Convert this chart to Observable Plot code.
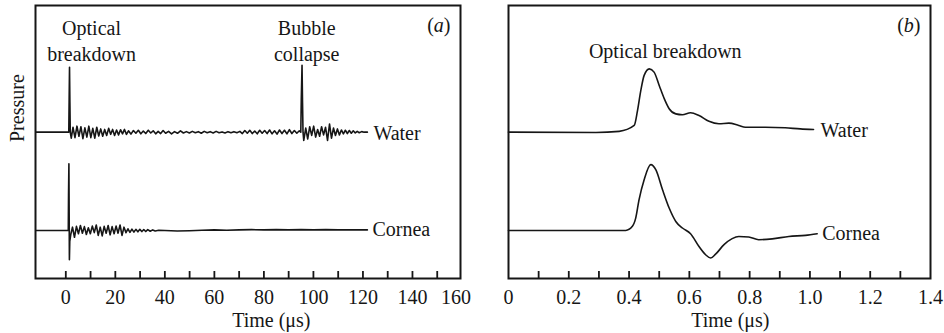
<!DOCTYPE html>
<html>
<head>
<meta charset="utf-8">
<script src="https://cdn.jsdelivr.net/npm/d3@7"></script>
<script src="https://cdn.jsdelivr.net/npm/@observablehq/plot@0.6"></script>
<style>
  body { margin: 0; background: #fff; }
  #fig { display: flex; width: 944px; }
  #fig svg { overflow: visible; }
</style>
</head>
<body>
<div id="fig"></div>
<script>
// Pressure traces (arbitrary units, relative to each trace's own baseline).
// Panel (a): long time window, µs.
const waterLong = [
  [-12, 0], [1.2, 0], [1.35, 1.2], [1.5, 2.38], [1.65, 1.1], [1.8, 0], [2.2, -0.22],
  [2.9, 0.18], [3.7, -0.2], [4.5, 0.22], [5.3, -0.15], [6.1, 0.2], [6.9, -0.24],
  [7.7, 0.16], [8.5, -0.18], [9.3, 0.22], [10.1, -0.2], [10.9, 0.14], [11.7, -0.22],
  [12.5, 0.18], [13.3, -0.14], [14.1, 0.12], [14.9, -0.15], [15.7, 0.1], [16.5, -0.12],
  [17.3, 0.14], [18.1, -0.08], [18.9, 0.1], [19.7, -0.12], [20.5, 0.08], [21.3, -0.1],
  [22.1, 0.09], [22.9, -0.06], [23.7, 0.1], [24.5, -0.08], [25.3, 0.05], [26.3, -0.07],
  [27.3, 0.06], [28.3, -0.04], [29.3, 0.07], [30.3, -0.06], [31.3, 0.04], [32.3, -0.05],
  [33.3, 0.07], [34.3, -0.03], [35.3, 0.05], [36.3, -0.06], [37.3, 0.03], [38.3, -0.05],
  [39.3, 0.06], [40.3, -0.04], [41.5, 0.03], [42.7, -0.06], [43.9, 0.02], [45.1, -0.04],
  [46.3, 0.05], [47.5, -0.03], [48.7, 0.02], [49.9, -0.03], [51.1, 0.03], [52.3, -0.02],
  [53.5, 0.02], [54.7, -0.04], [55.9, 0.03], [57.1, -0.02], [58.3, 0.02], [59.5, -0.03],
  [60.7, 0.03], [61.9, -0.02], [63.1, 0.01], [64.3, -0.03], [65.5, 0.02], [66.7, -0.02],
  [67.9, 0.02], [69.1, -0.02], [70.3, 0.03], [71.3, -0.05], [72.3, 0.06], [73.3, -0.04],
  [74.3, 0.07], [75.3, -0.05], [76.3, 0.04], [77.3, -0.06], [78.3, 0.07], [79.3, -0.04],
  [80.3, 0.06], [81.3, -0.05], [82.3, 0.08], [83.3, -0.06], [84.3, 0.05], [85.3, -0.07],
  [86.3, 0.08], [87.3, -0.05], [88.3, 0.07], [89.3, -0.06], [90.3, 0.09], [91.3, -0.05],
  [92.3, 0.06], [93.3, -0.04], [94.3, 0.05], [94.9, 0], [95.1, 1.2], [95.4, 2.45],
  [95.6, 1.1], [95.8, 0], [96.1, -0.3], [96.9, 0.15], [97.7, -0.25], [98.5, 0.2],
  [99.3, -0.12], [100.1, 0.22], [100.9, -0.18], [101.7, 0.1], [102.5, -0.15], [103.3, 0.2],
  [104.1, -0.1], [104.9, 0.18], [105.7, -0.3], [106.5, 0.3], [107.3, -0.22], [108.1, 0.15],
  [108.9, -0.12], [109.7, 0.12], [110.5, -0.1], [111.3, 0.08], [112.1, -0.06], [112.9, 0.07],
  [113.7, -0.05], [114.5, 0.06], [115.3, -0.04], [116.1, 0.05], [116.9, -0.03], [117.7, 0.03],
  [118.5, -0.02], [119.5, 0.02], [120.5, 0], [121.8, 0]
];
const corneaLong = [
  [-12, 0], [1.0, 0], [1.1, 1.3], [1.25, 2.44], [1.35, 0.7], [1.45, -1.07], [1.6, -0.4],
  [2.0, -0.15], [2.7, 0.12], [3.5, -0.25], [4.3, 0.15], [5.1, -0.12], [5.9, 0.18],
  [6.7, -0.1], [7.5, 0.14], [8.3, -0.15], [9.1, 0.1], [9.9, -0.12], [10.7, 0.16],
  [11.5, -0.08], [12.3, 0.2], [13.1, -0.18], [13.9, 0.12], [14.7, -0.2], [15.5, 0.15],
  [16.3, -0.1], [17.1, 0.18], [17.9, -0.16], [18.7, 0.14], [19.5, -0.12], [20.3, 0.16],
  [21.1, -0.1], [21.9, 0.2], [22.7, -0.18], [23.5, 0.12], [24.3, -0.08], [25.1, 0.06],
  [25.9, -0.07], [26.7, 0.05], [27.5, -0.06], [28.3, 0.04], [29.1, -0.05], [29.9, 0.04],
  [30.7, -0.04], [31.5, 0.03], [32.3, -0.04], [33.1, 0.03], [34.1, -0.03], [35.1, 0.02],
  [36.1, -0.02], [37.5, 0.01], [40, 0], [45, -0.02], [50, -0.01], [55, 0.01], [60, 0.02],
  [65, 0.01], [70, 0.02], [75, 0.03], [80, 0.02], [85, 0.03], [90, 0.02], [95, 0.03],
  [100, 0.02], [105, 0.03], [110, 0.02], [115, 0.02], [121.8, 0.02]
];

// Panel (b): short time window, µs.
const waterShort = [
  [0, 0], [0.29, -0.01], [0.367, 0.03], [0.417, 0.245], [0.428, 0.79], [0.439, 1.53],
  [0.45, 2.08], [0.467, 2.32], [0.483, 2.2], [0.5, 1.71], [0.517, 1.22], [0.533, 0.86],
  [0.555, 0.67], [0.577, 0.64], [0.604, 0.71], [0.632, 0.61], [0.665, 0.4], [0.698, 0.31],
  [0.731, 0.33], [0.764, 0.245], [0.786, 0.18], [0.852, 0.18], [0.918, 0.16],
  [0.968, 0.12], [1.012, 0.1]
];
const corneaShort = [
  [0, 0], [0.389, 0], [0.411, 0.15], [0.422, 0.45], [0.433, 1.12], [0.45, 1.86],
  [0.472, 2.41], [0.489, 2.22], [0.511, 1.49], [0.533, 0.82], [0.555, 0.33], [0.577, 0.09],
  [0.604, -0.12], [0.632, -0.59], [0.654, -0.89], [0.671, -1.01], [0.687, -0.87],
  [0.715, -0.52], [0.742, -0.3], [0.764, -0.22], [0.797, -0.24], [0.83, -0.34],
  [0.875, -0.31], [0.93, -0.22], [0.985, -0.18], [1.024, -0.12]
];

const traceNames = ["Water", "Cornea"];

// Axis ticks
const minorLong = [0, 10, 20, 30, 40, 50, 60, 70, 80, 90, 100, 110, 120, 130, 140, 150];
const labelsLong = [0, 20, 40, 60, 80, 100, 120, 140];
const edgeLabelLong = [160];
const minorShort = [0.1, 0.2, 0.3, 0.4, 0.5, 0.6, 0.7, 0.8, 0.9, 1.0, 1.1, 1.2, 1.3];
const labelsShort = [0, 0.2, 0.4, 0.6, 0.8, 1.0, 1.2, 1.4];

// Layout constants
const W = 472, H = 333, MT = 5, MB = 55;
const frameH = H - MT - MB;
const traceGap = 3.6;               // vertical separation of the two traces
const yDomain = [-1.76, 8.24];
const ink = "#161616";
const font = "Liberation Serif, Times New Roman, serif";

const toRows = (pts, shift) => pts.map(([t, p]) => ({t, p: p + shift}));

function panel({water, cornea, xDomain, ml, mr, minor, labels, fmt, curve, extra, tag, timeX, labelDx}) {
  const wRows = toRows(water, traceGap);
  const cRows = toRows(cornea, 0);
  const ends = [
    {...wRows[wRows.length - 1], name: traceNames[0], dx: labelDx[0]},
    {...cRows[cRows.length - 1], name: traceNames[1], dx: labelDx[1]}
  ];
  return Plot.plot({
    width: W, height: H,
    marginLeft: ml, marginRight: mr, marginTop: MT, marginBottom: MB,
    style: {fontFamily: font, fontSize: "20px", color: ink, background: "#fff"},
    x: {domain: xDomain},
    y: {domain: yDomain, axis: null},
    marks: [
      Plot.ruleX(minor, {x: d => d, insetTop: frameH - 7, stroke: ink, strokeWidth: 1.8}),
      Plot.line(wRows, {x: "t", y: "p", stroke: ink, strokeWidth: 1.6, curve}),
      Plot.line(cRows, {x: "t", y: "p", stroke: ink, strokeWidth: 1.6, curve}),
      Plot.text(ends.slice(0, 1), {x: "t", y: "p", text: "name", textAnchor: "start", dx: ends[0].dx, dy: 1, fill: ink, fontSize: 20}),
      Plot.text(ends.slice(1), {x: "t", y: "p", text: "name", textAnchor: "start", dx: ends[1].dx, fill: ink, fontSize: 20}),
      Plot.frame({stroke: ink, strokeWidth: 2}),
      Plot.axisX({ticks: labels, tickSize: 0, tickPadding: 11, tickFormat: fmt, label: null, fontSize: 20, fill: ink}),
      Plot.text(["Time (μs)"], {x: timeX, frameAnchor: "bottom", dy: 48, lineAnchor: "bottom", fill: ink, fontSize: 20}),
      Plot.text([tag], {frameAnchor: "top-right", dx: -10, dy: 26, textAnchor: "end", lineAnchor: "bottom", fill: ink, fontSize: 20}),
      ...extra
    ]
  });
}

const left = panel({
  water: waterLong, cornea: corneaLong,
  xDomain: [-12.24, 159.4], ml: 35, mr: 12,
  minor: minorLong, labels: labelsLong, fmt: d => String(d),
  curve: "linear", tag: "(a)", timeX: 83, labelDx: [6, 5],
  extra: [
    Plot.axisX({ticks: edgeLabelLong, tickSize: 0, tickPadding: 11, dx: -6, label: null, fontSize: 20, fill: ink}),
    Plot.text(["Pressure"], {frameAnchor: "left", rotate: -90, dx: -12, lineAnchor: "bottom", fill: ink, fontSize: 20}),
    Plot.text(["Optical\nbreakdown"], {x: 10.4, frameAnchor: "top", dy: 11.3, lineAnchor: "top", lineHeight: 1.3, fill: ink, fontSize: 20}),
    Plot.text(["Bubble\ncollapse"], {x: 97.3, frameAnchor: "top", dy: 11.3, lineAnchor: "top", lineHeight: 1.3, fill: ink, fontSize: 20})
  ]
});

const right = panel({
  water: waterShort, cornea: corneaShort,
  xDomain: [0, 1.4], ml: 36, mr: 14,
  minor: minorShort, labels: labelsShort, fmt: d => d === 0 ? "0" : d.toFixed(1),
  curve: "monotone-x", tag: "(b)", timeX: 0.736, labelDx: [7, 5],
  extra: [
    Plot.text(["Optical breakdown"], {x: 0.52, frameAnchor: "top", dy: 52.3, lineAnchor: "bottom", fill: ink, fontSize: 20})
  ]
});

// Panel tags: italic letter inside upright parentheses
for (const svg of [left, right]) {
  svg.querySelectorAll("text").forEach(el => {
    const s = el.textContent;
    if (/^\([ab]\)$/.test(s)) {
      el.textContent = "";
      const ns = "http://www.w3.org/2000/svg";
      [["(", "normal"], [s[1], "italic"], [")", "normal"]].forEach(([ch, st]) => {
        const ts = document.createElementNS(ns, "tspan");
        ts.textContent = ch;
        ts.setAttribute("font-style", st);
        el.appendChild(ts);
      });
    }
  });
}

const fig = document.getElementById("fig");
fig.appendChild(left);
fig.appendChild(right);
</script>
</body>
</html>
